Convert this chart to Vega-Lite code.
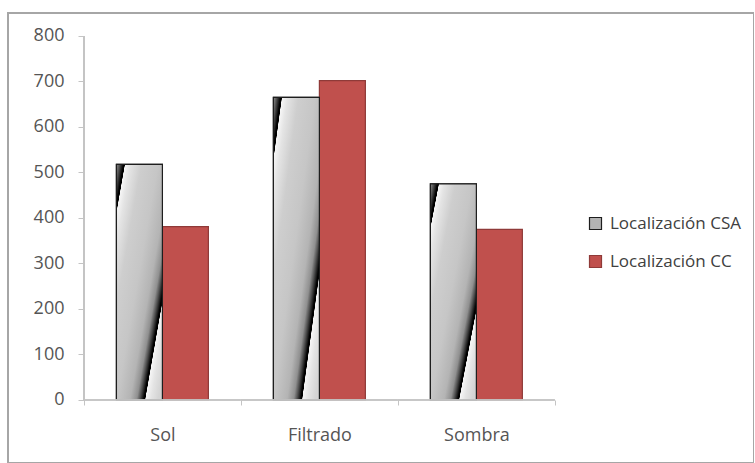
{
  "$schema": "https://vega.github.io/schema/vega-lite/v6.json",
  "autosize": {"type": "none"},
  "padding": {"left": 8, "top": 13, "right": 0, "bottom": 0},
  "width": 746,
  "height": 450,
  "background": "white",
  "config": {
    "view": {"stroke": "#a6a6a6", "strokeWidth": 2},
    "font": "Open Sans"
  },
  "data": {
    "values": [
      {"cat": "Sol", "serie": "Localización CSA", "value": 518},
      {"cat": "Sol", "serie": "Localización CC", "value": 381},
      {"cat": "Filtrado", "serie": "Localización CSA", "value": 665},
      {"cat": "Filtrado", "serie": "Localización CC", "value": 702},
      {"cat": "Sombra", "serie": "Localización CSA", "value": 475},
      {"cat": "Sombra", "serie": "Localización CC", "value": 375}
    ]
  },
  "resolve": {"scale": {"x": "shared", "y": "shared"}},
  "layer": [
    {
      "mark": {"type": "bar", "strokeWidth": 1.2},
      "encoding": {
        "x": {
          "field": "cat",
          "type": "nominal",
          "sort": ["Sol", "Filtrado", "Sombra"],
          "scale": {"domain": ["Sol", "Filtrado", "Sombra"], "paddingInner": 0, "paddingOuter": 0.876, "align": 0.276},
          "axis": {
            "orient": "bottom",
            "offset": -63,
            "domain": false,
            "ticks": true,
            "tickBand": "extent",
            "tickSize": 5,
            "tickColor": "#c4c4c4",
            "labelPadding": 21,
            "labelFontSize": 18,
            "labelColor": "#555555",
            "labelAngle": 0,
            "title": null,
            "grid": false
          }
        },
        "xOffset": {
          "field": "serie",
          "type": "nominal",
          "sort": ["Localización CSA", "Localización CC"],
          "scale": {"domain": ["Localización CSA", "Localización CC"], "paddingInner": 0, "paddingOuter": 0.707}
        },
        "y": {
          "field": "value",
          "type": "quantitative",
          "stack": null,
          "scale": {"domain": [-138.5, 850.5], "nice": false, "zero": false},
          "axis": {
            "orient": "left",
            "offset": -76,
            "values": [0, 100, 200, 300, 400, 500, 600, 700, 800],
            "domain": false,
            "grid": false,
            "ticks": true,
            "tickSize": 6,
            "tickColor": "#c4c4c4",
            "labelPadding": 14,
            "labelFontSize": 18,
            "labelColor": "#555555",
            "title": null
          }
        },
        "color": {
          "field": "serie",
          "type": "nominal",
          "scale": {
            "domain": ["Localización CSA", "Localización CC"],
            "range": ["#b4b4b4", "#C0504D"]
          },
          "legend": {
            "orient": "none",
            "legendX": 579,
            "legendY": 202,
            "title": null,
            "padding": 0,
            "symbolType": "square",
            "symbolSize": 144,
            "symbolStrokeWidth": 1.2,
            "labelFont": "Open Sans",
            "labelFontSize": 17,
            "labelColor": "#404040",
            "labelOffset": 6,
            "rowPadding": 20
          }
        },
        "stroke": {
          "field": "serie",
          "type": "nominal",
          "scale": {
            "domain": ["Localización CSA", "Localización CC"],
            "range": ["#1e1e1e", "#8f3a38"]
          },
          "legend": {
            "orient": "none",
            "legendX": 579,
            "legendY": 202,
            "title": null,
            "padding": 0,
            "symbolType": "square",
            "symbolSize": 144,
            "symbolStrokeWidth": 1.2,
            "labelFont": "Open Sans",
            "labelFontSize": 17,
            "labelColor": "#404040",
            "labelOffset": 6,
            "rowPadding": 20
          }
        }
      }
    },
    {
      "transform": [{"filter": "datum.serie === 'Localización CSA'"}],
      "mark": {
        "type": "bar",
        "strokeWidth": 1.2,
        "stroke": "#1e1e1e",
        "fill": {
          "gradient": "linear",
          "x1": 0, "y1": 0, "x2": 1, "y2": 0.9,
          "stops": [
            {"offset": 0.0, "color": "#909090"},
            {"offset": 0.04, "color": "#505050"},
            {"offset": 0.085, "color": "#000000"},
            {"offset": 0.10, "color": "#000000"},
            {"offset": 0.105, "color": "#f6f6f6"},
            {"offset": 0.17, "color": "#e4e4e4"},
            {"offset": 0.30, "color": "#cecece"},
            {"offset": 0.50, "color": "#c6c6c6"},
            {"offset": 0.66, "color": "#b4b4b4"},
            {"offset": 0.74, "color": "#909090"},
            {"offset": 0.78, "color": "#505050"},
            {"offset": 0.825, "color": "#000000"},
            {"offset": 0.84, "color": "#000000"},
            {"offset": 0.845, "color": "#f6f6f6"},
            {"offset": 0.91, "color": "#e4e4e4"},
            {"offset": 1.0, "color": "#d4d4d4"}
          ]
        }
      },
      "encoding": {
        "x": {"field": "cat", "type": "nominal", "sort": ["Sol", "Filtrado", "Sombra"]},
        "xOffset": {
          "field": "serie",
          "type": "nominal",
          "scale": {"domain": ["Localización CSA", "Localización CC"], "paddingInner": 0, "paddingOuter": 0.707}
        },
        "y": {"field": "value", "type": "quantitative", "stack": null}
      }
    },
    {
      "mark": {"type": "rule", "color": "#c4c4c4", "strokeWidth": 1.5},
      "encoding": {
        "x": {"datum": "Sol", "type": "nominal", "bandPosition": 0},
        "y": {"datum": 0, "type": "quantitative"},
        "y2": {"datum": 800}
      }
    },
    {
      "mark": {"type": "rect", "fillOpacity": 0, "stroke": "#c4c4c4", "strokeWidth": 1.5},
      "encoding": {
        "x": {"field": "cat", "type": "nominal", "sort": ["Sol", "Filtrado", "Sombra"]},
        "y": {"datum": 0, "type": "quantitative"},
        "y2": {"datum": 0}
      }
    }
  ]
}
